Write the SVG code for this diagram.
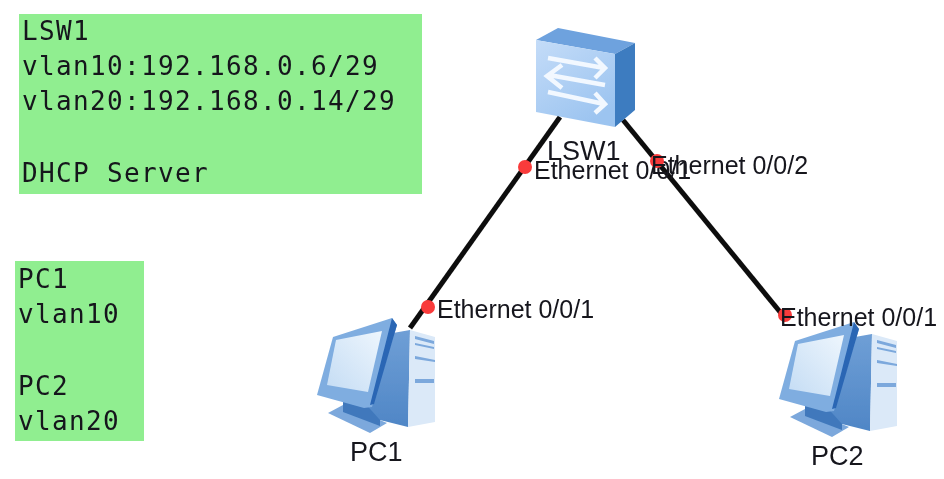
<svg xmlns="http://www.w3.org/2000/svg" width="944" height="479" viewBox="0 0 944 479">
<defs>
<filter id="soft" x="-5%" y="-5%" width="110%" height="110%"><feGaussianBlur stdDeviation="0.6"/></filter>
<linearGradient id="sw" x1="0" y1="0" x2="0.6" y2="1"><stop offset="0" stop-color="#c4dcf8"/><stop offset="1" stop-color="#9cc4f0"/></linearGradient>
<linearGradient id="scr" x1="0" y1="1" x2="1" y2="0"><stop offset="0" stop-color="#c4dcf4"/><stop offset="1" stop-color="#eef6fd"/></linearGradient>
<linearGradient id="side" x1="0" y1="0" x2="0" y2="1"><stop offset="0" stop-color="#6f9fd6"/><stop offset="1" stop-color="#4f86c6"/></linearGradient>
<g id="pc">
<path d="M10 93 L25 85 L69 103 L52 113 Z" fill="#7ba8dc"/>
<path d="M25 80 L44 80 L62 90 L62 106 L25 92 Z" fill="#3f78bc"/>
<path d="M75 13 L92 10 L90 107 L62 100 L44 80 Z" fill="url(#side)"/>
<path d="M92 10 L117 17 L117 102 L90 107 Z" fill="#dbe9f8"/>
<path d="M97 16 L116 21 L116 24 L97 19 Z M97 23 L116 27 L116 29 L97 25 Z M97 36 L117 40 L117 42 L97 39 Z M97 59 L116 59 L116 63 L97 63 Z" fill="#7ba8dc"/>
<path d="M15 17 L74 -2 L79 5 L54 87 L46 88 L-1 75 Z" fill="#7fade0"/>
<path d="M74 -2 L79 5 L56 84 L52 85 Z" fill="#2a66b4"/>
<path d="M18 20 L64 11 L50 72 L9 65 Z" fill="url(#scr)"/>
</g>
</defs>
<style>
svg>g{filter:url(#soft)}
text{fill:#14141c}
.mono{font-family:"DejaVu Sans Mono",monospace;font-size:26px;letter-spacing:1.35px}
.sans{font-family:"Liberation Sans",Arial,sans-serif}
.port{font-size:25px}
.name{font-size:27px}
.box{fill:#90ee90}
.link{stroke:#111;stroke-width:5;fill:none}
.dot{fill:#f93b3b}
</style>
<g id="connectors">
<line class="link" x1="560" y1="117" x2="410" y2="328"/>
<line class="link" x1="623" y1="120" x2="785" y2="318"/>
</g>
<g id="note-lsw1">
<rect class="box" x="19" y="14" width="403" height="180"/>
<text class="mono" x="22" y="40">LSW1</text>
<text class="mono" x="22" y="75">vlan10:192.168.0.6/29</text>
<text class="mono" x="22" y="110">vlan20:192.168.0.14/29</text>
<text class="mono" x="22" y="182">DHCP Server</text>
</g>
<g id="note-pcs">
<rect class="box" x="15" y="261" width="129" height="180"/>
<text class="mono" x="18" y="288">PC1</text>
<text class="mono" x="18" y="323">vlan10</text>
<text class="mono" x="18" y="395">PC2</text>
<text class="mono" x="18" y="430">vlan20</text>
</g>
<g id="LSW1">
<path d="M536 40 L558 28 L635 43 L615 54 Z" fill="#6ea2de"/>
<path d="M615 54 L635 43 L635 110 L615 127 Z" fill="#3d7cc0"/>
<path d="M536 40 L615 54 L615 127 L536 112 Z" fill="url(#sw)"/>
<path d="M548 58 L604 68 M595 58 L605 68 L595 78 M605 85 L549 75 M562 65 L547 76 L562 88 M548 92 L604 104 M595 93 L605 104 L595 113" fill="none" stroke="#f2f8ff" stroke-width="4.5"/>
<text class="sans name" x="547" y="160">LSW1</text>
</g>
<g id="PC1">
<use href="#pc" x="318" y="320"/>
<text class="sans name" x="350" y="461">PC1</text>
</g>
<g id="PC2">
<use href="#pc" x="780" y="324"/>
<text class="sans name" x="811" y="465">PC2</text>
</g>
<g id="ports">
<circle class="dot" cx="525" cy="167" r="7"/>
<text class="sans port" x="534" y="179">Ethernet 0/0/1</text>
<circle class="dot" cx="657" cy="161" r="7"/>
<text class="sans port" x="651" y="174">Ethernet 0/0/2</text>
<circle class="dot" cx="428" cy="307" r="7"/>
<text class="sans port" x="437" y="318">Ethernet 0/0/1</text>
<circle class="dot" cx="785" cy="315" r="7"/>
<text class="sans port" x="780" y="326">Ethernet 0/0/1</text>
</g>
</svg>
